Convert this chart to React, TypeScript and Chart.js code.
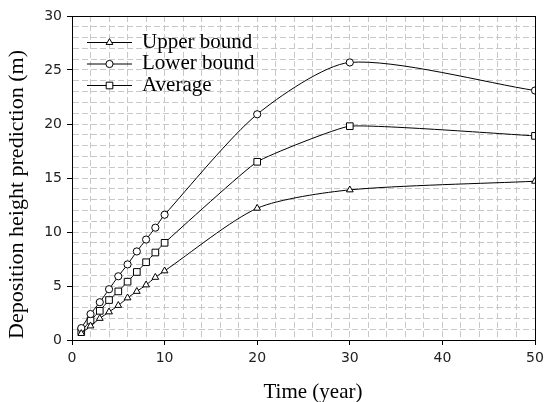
import React, { useEffect, useRef } from "react";
import { Chart, registerables } from "chart.js";

Chart.register(...registerables);

const years = [1, 2, 3, 4, 5, 6, 7, 8, 9, 10, 20, 30, 50];
const upperBound = [0.6, 1.3, 2.0, 2.6, 3.2, 3.9, 4.5, 5.1, 5.8, 6.4, 12.2, 13.9, 14.7];
const lowerBound = [1.1, 2.4, 3.5, 4.7, 5.9, 7.0, 8.2, 9.3, 10.4, 11.6, 20.9, 25.7, 23.1];
const average = [0.8, 1.8, 2.7, 3.7, 4.5, 5.4, 6.3, 7.2, 8.1, 9.0, 16.5, 19.8, 18.9];
const seriesNames = ["Upper bound", "Lower bound", "Average"];
const xLabelTicks = [0, 10, 20, 30, 40, 50];
const yLabelTicks = [0, 5, 10, 15, 20, 25, 30];
const xTitle = "Time (year)";
const yTitle = "Deposition height prediction (m)";

const SERIF = "'Liberation Serif', 'Times New Roman', serif";
const SANS = "'DejaVu Sans', Verdana, sans-serif";

function drawMarker(ctx: CanvasRenderingContext2D, style: string, r: number, x: number, y: number) {
  ctx.beginPath();
  if (style === "circle") {
    ctx.arc(x, y, r, 0, Math.PI * 2);
  } else if (style === "rect") {
    const s = r * Math.SQRT1_2;
    ctx.rect(x - s, y - s, 2 * s, 2 * s);
  } else {
    const side = r * Math.sqrt(3);
    const h = (side * Math.sqrt(3)) / 2;
    ctx.moveTo(x, y - (2 * h) / 3);
    ctx.lineTo(x + side / 2, y + h / 3);
    ctx.lineTo(x - side / 2, y + h / 3);
    ctx.closePath();
  }
  ctx.fillStyle = "#fff";
  ctx.fill();
  ctx.strokeStyle = "#000";
  ctx.lineWidth = 1;
  ctx.stroke();
}

const legendPlugin = {
  id: "customLegend",
  afterDatasetsDraw(chart: any) {
    const ctx = chart.ctx;
    const area = chart.chartArea;
    ctx.save();
    ctx.strokeStyle = "#000";
    ctx.lineWidth = 1;
    ctx.strokeRect(Math.round(area.left) + 0.5, Math.round(area.top) + 0.5, Math.round(area.right - area.left), Math.round(area.bottom - area.top));
    const rows = [42, 63.5, 85];
    chart.data.datasets.forEach((ds: any, i: number) => {
      const y = rows[i];
      ctx.beginPath();
      ctx.strokeStyle = "#000";
      ctx.lineWidth = 1;
      ctx.moveTo(87, y + 0.5);
      ctx.lineTo(132, y + 0.5);
      ctx.stroke();
      drawMarker(ctx, ds.pointStyle, ds.pointRadius, 109.5, y + 0.5);
      ctx.fillStyle = "#000";
      ctx.font = `21px ${SERIF}`;
      ctx.textBaseline = "middle";
      ctx.textAlign = "left";
      ctx.fillText(ds.label, 142, y);
    });
    // axis titles
    ctx.fillStyle = "#000";
    ctx.font = `21px ${SERIF}`;
    ctx.textAlign = "center";
    ctx.textBaseline = "alphabetic";
    ctx.fillText(xTitle, 313, 398);
    ctx.save();
    ctx.font = `22px ${SERIF}`;
    ctx.translate(23, 194.5);
    ctx.rotate(-Math.PI / 2);
    ctx.fillText(yTitle, 0, 0);
    ctx.restore();
    ctx.restore();
  },
};

export default function App() {
  const ref = useRef<HTMLCanvasElement>(null);
  useEffect(() => {
    if (!ref.current) return;
    const mk = (label: string, data: number[], style: string, r: number, tension: number) => ({
      label,
      data: years.map((x, i) => ({ x, y: data[i] })),
      borderColor: "#000",
      borderWidth: 1,
      backgroundColor: "#fff",
      pointStyle: style,
      pointRadius: r,
      pointBorderColor: "#000",
      pointBackgroundColor: "#fff",
      pointBorderWidth: 1,
      tension,
      fill: false,
    });
    const chart = new Chart(ref.current, {
      type: "line",
      data: {
        datasets: [
          mk(seriesNames[0], upperBound, "triangle", 3.9, 0.25),
          mk(seriesNames[1], lowerBound, "circle", 3.6, 0.25),
          mk(seriesNames[2], average, "rect", 4.7, 0.12),
        ],
      },
      options: {
        animation: false,
        responsive: false,
        devicePixelRatio: 1,
        layout: { padding: { left: 0, right: 11, top: 16, bottom: 0 } },
        plugins: { legend: { display: false }, tooltip: { enabled: false } },
        scales: {
          x: {
            type: "linear",
            min: 0,
            max: 50,
            afterFit: (s: any) => {
              s.height = 62;
              s.paddingLeft = 0;
              s.paddingRight = 0;
            },
            afterBuildTicks: (s: any) => {
              const t = [];
              for (let v = 0; v <= 50; v += 2) t.push({ value: v });
              s.ticks = t;
            },
            ticks: {
              autoSkip: false,
              maxRotation: 0,
              padding: 5,
              color: "#222",
              font: { family: SANS, size: 14 },
              callback: (v: any) => (xLabelTicks.includes(v) ? String(v) : ""),
            },
            grid: {
              color: (c: any) => (c.tick && c.tick.value === 0 ? "rgba(0,0,0,0)" : "#c8c8c8"),
              tickColor: (c: any) => (c.tick && xLabelTicks.includes(c.tick.value) ? "#000" : "rgba(0,0,0,0)"),
              tickLength: 5,
              lineWidth: 1,
            },
            border: { display: true, color: "#000", width: 1, dash: [6, 3] },
            title: { display: false },
          },
          y: {
            type: "linear",
            min: 0,
            max: 30,
            afterFit: (s: any) => {
              s.width = 72;
              s.paddingTop = 0;
              s.paddingBottom = 0;
            },
            afterBuildTicks: (s: any) => {
              const t = [];
              for (let v = 0; v <= 30; v += 1) t.push({ value: v });
              s.ticks = t;
            },
            ticks: {
              autoSkip: false,
              padding: 5,
              color: "#222",
              font: { family: SANS, size: 14 },
              callback: (v: any) => (yLabelTicks.includes(v) ? String(v) : ""),
            },
            grid: {
              color: (c: any) => (c.tick && c.tick.value === 0 ? "rgba(0,0,0,0)" : "#c8c8c8"),
              tickColor: (c: any) => (c.tick && yLabelTicks.includes(c.tick.value) ? "#000" : "rgba(0,0,0,0)"),
              tickLength: 5,
              lineWidth: 1,
            },
            border: { display: true, color: "#000", width: 1, dash: [6, 3] },
            title: { display: false },
          },
        },
      },
      plugins: [legendPlugin],
    } as any);
    return () => chart.destroy();
  }, []);
  return (
    <div style={{ position: "fixed", left: 0, top: 0, width: 546, height: 402, background: "#fff" }}>
      <canvas ref={ref} width={546} height={402} style={{ width: 546, height: 402 }} />
    </div>
  );
}
